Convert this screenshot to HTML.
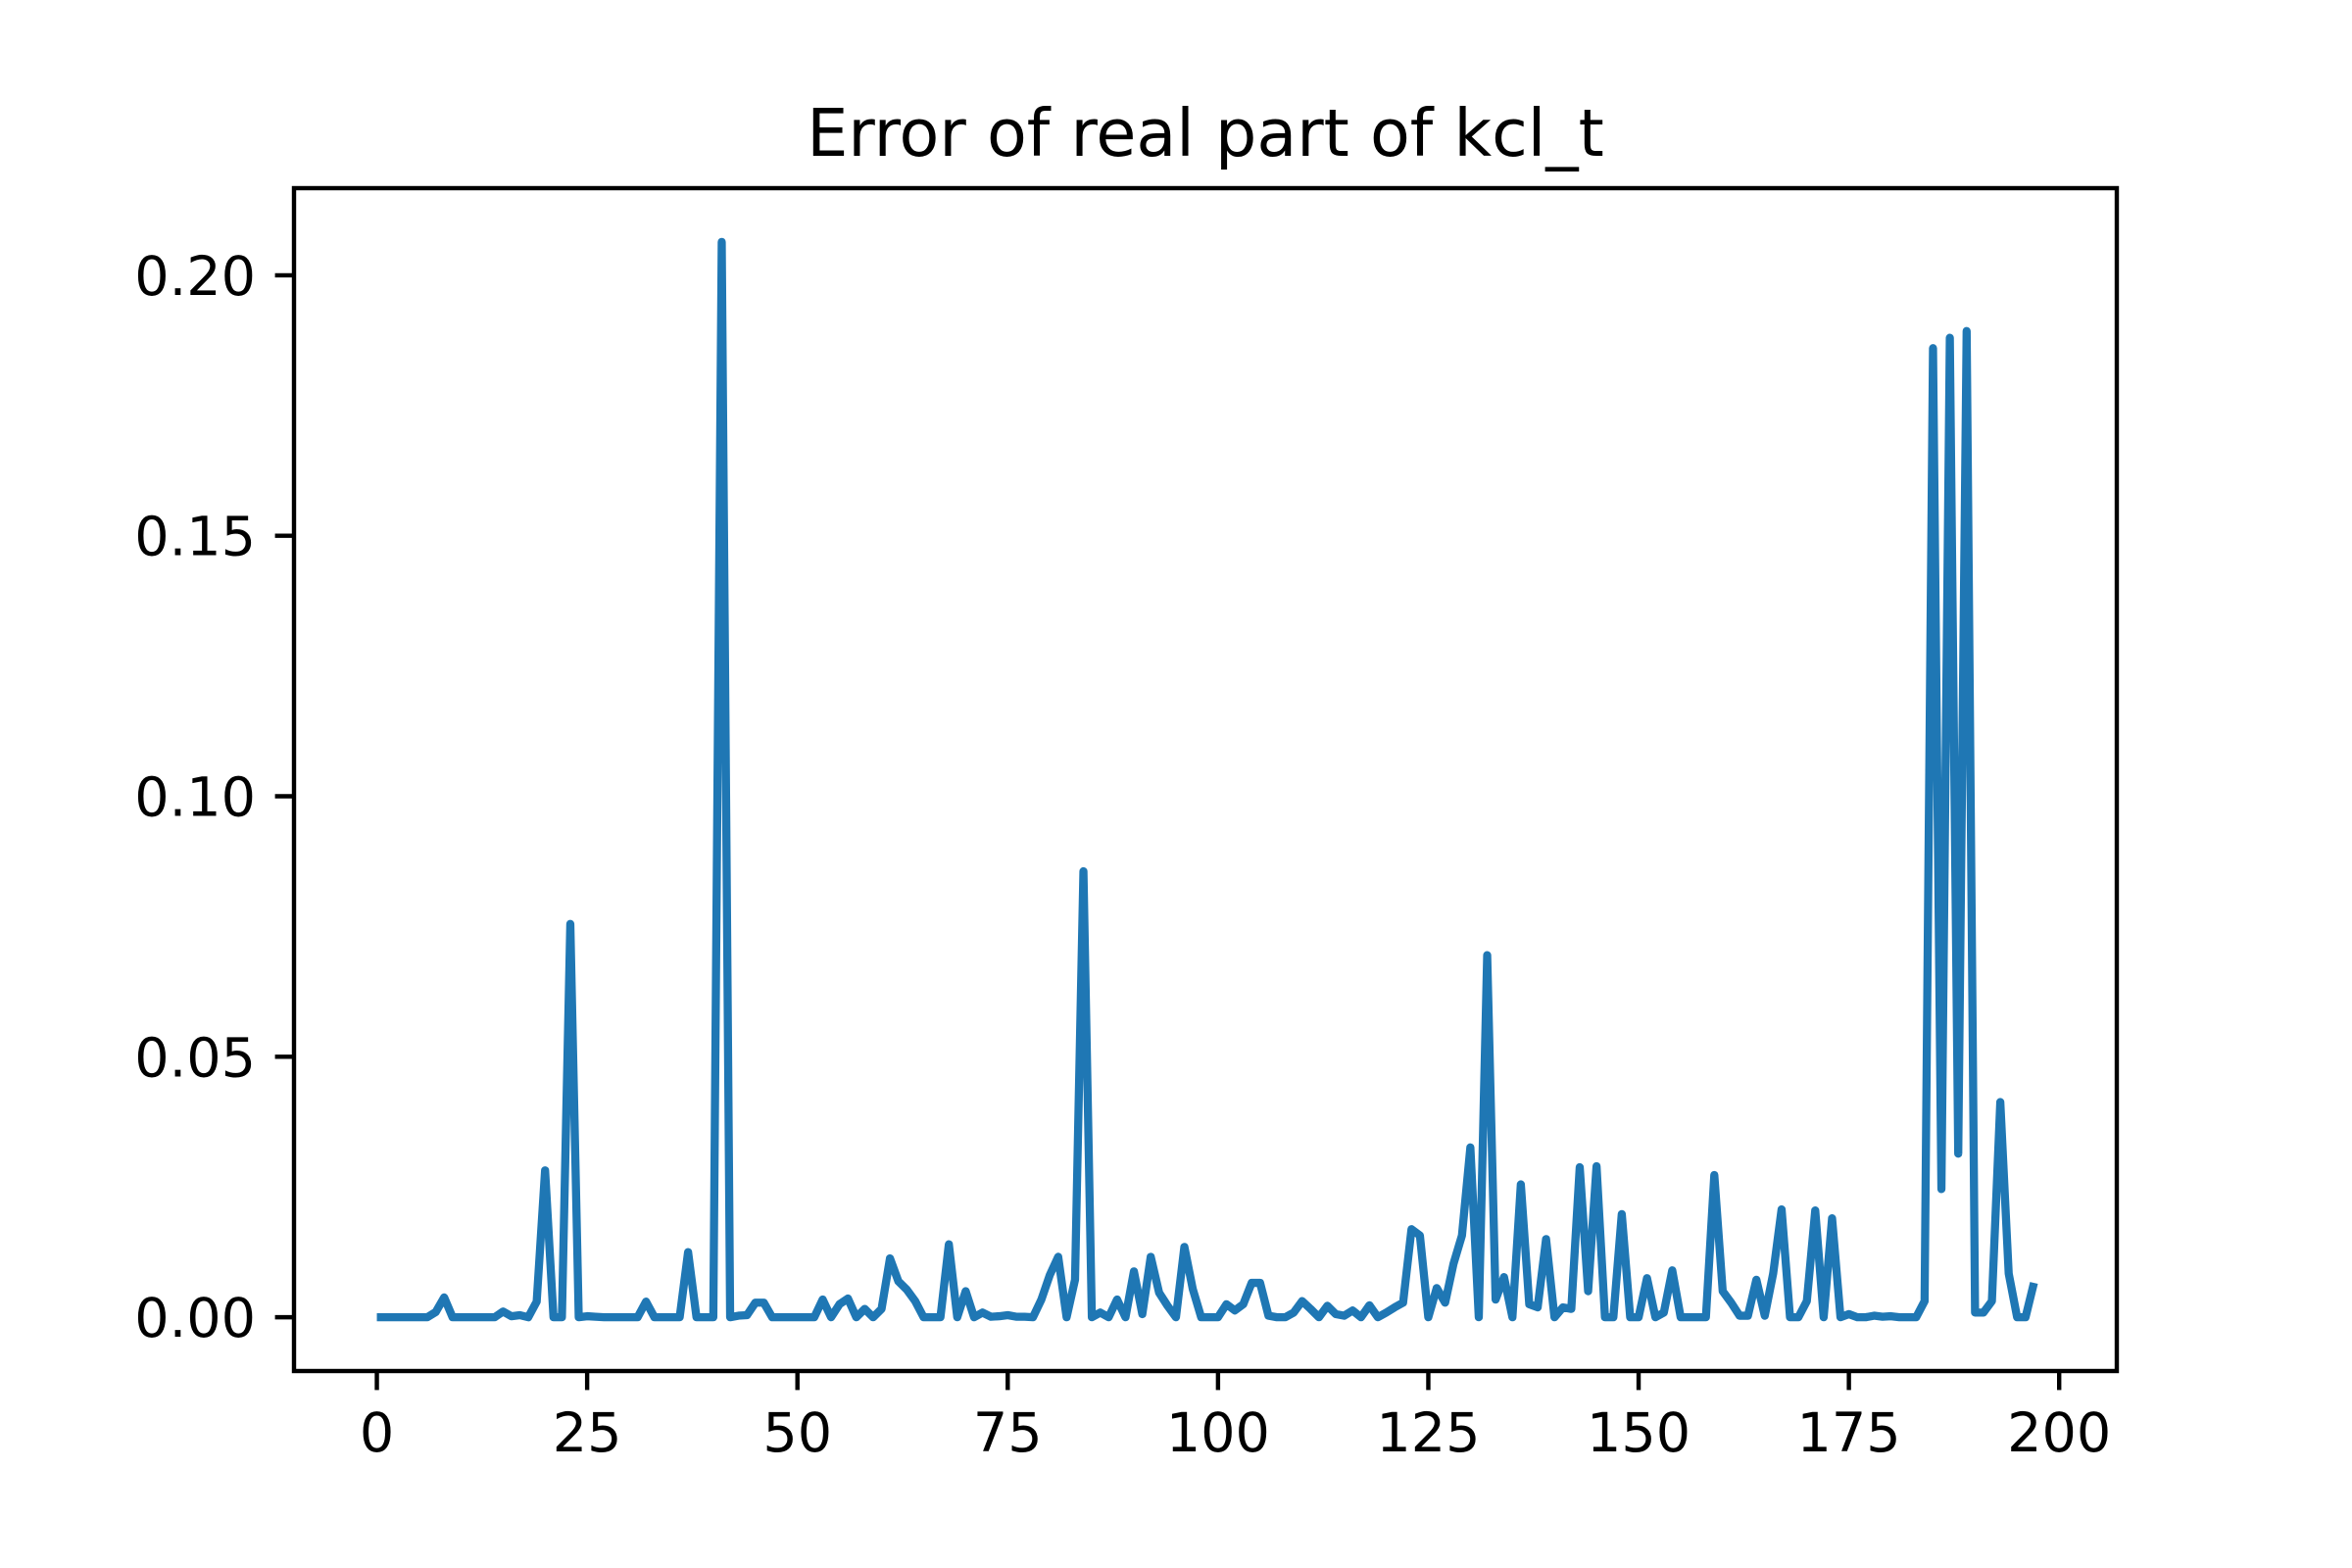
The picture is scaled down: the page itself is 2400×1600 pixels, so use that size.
<!DOCTYPE html>
<html>
<head>
<meta charset="utf-8">
<style>
  html, body { margin: 0; padding: 0; background: #ffffff; }
  svg { display: block; }
  text { font-family: "DejaVu Sans", "Liberation Sans", sans-serif; fill: #000; }
</style>
</head>
<body>
<svg id="chart" width="2400" height="1600" viewBox="0 0 2400 1600" xmlns="http://www.w3.org/2000/svg">
  <rect x="0" y="0" width="2400" height="1600" fill="#ffffff"/>
  <text x="1230" y="159" font-size="66.7" text-anchor="middle">Error of real part of kcl_t</text>
  <g id="ticks"></g>
  <g id="plot"></g>
  <rect x="300" y="192" width="1860" height="1207" fill="none" stroke="#000" stroke-width="4.4"/>
</svg>
<script>
const values = [
  0, 0, 0, 0, 0, 0, 0, 0.001, 0.0038, 0,
  0, 0, 0, 0, 0, 0.0011, 0.0002, 0.0004, 0, 0.003,
  0.0282, 0, 0, 0.0755, 0, 0.0002, 0.0001, 0, 0, 0,
  0, 0, 0.003, 0, 0, 0, 0, 0.0125, 0, 0,
  0, 0.2064, 0, 0.0003, 0.0004, 0.0028, 0.0028, 0, 0, 0,
  0, 0, 0, 0.0034, 0, 0.0025, 0.0036, 0, 0.0016, 0,
  0.0016, 0.0113, 0.0069, 0.0053, 0.0031, 0, 0, 0, 0.014, 0,
  0.005, 0, 0.0009, 0.0001, 0.0002, 0.0004, 0.0001, 0.0001, 0, 0.0034,
  0.0081, 0.0116, 0, 0.0072, 0.0856, 0, 0.0009, 0, 0.0034, 0,
  0.0088, 0.0006, 0.0116, 0.0047, 0.0022, 0, 0.0135, 0.0054, 0, 0,
  0, 0.0025, 0.0013, 0.0025, 0.0066, 0.0066, 0.0003, 0, 0, 0.0009,
  0.0031, 0.0016, 0, 0.0022, 0.0006, 0.0003, 0.0013, 0, 0.0023, 0,
  0.0009, 0.0019, 0.0028, 0.0169, 0.0157, 0, 0.0056, 0.0028, 0.0103, 0.0157,
  0.0326, 0, 0.0695, 0.0034, 0.0077, 0, 0.0255, 0.0025, 0.0019, 0.015,
  0, 0.0019, 0.0016, 0.0288, 0.005, 0.029, 0, 0, 0.0198, 0,
  0, 0.0075, 0, 0.0009, 0.009, 0, 0, 0, 0, 0.0273,
  0.005, 0.0028, 0.0003, 0.0003, 0.0072, 0.0003, 0.0084, 0.0207, 0, 0,
  0.0031, 0.0205, 0, 0.019, 0, 0.0006, 0, 0, 0.0003, 0.0001,
  0.0002, 0, 0, 0, 0.0031, 0.186, 0.0246, 0.188, 0.0314, 0.1893,
  0.0009, 0.0009, 0.0031, 0.0413, 0.0084, 0, 0, 0.0066
];
const xTicks = [0, 25, 50, 75, 100, 125, 150, 175, 200];
const yTicks = [0, 0.05, 0.10, 0.15, 0.20];
const yTickLabels = ["0.00", "0.05", "0.10", "0.15", "0.20"];

const NS = "http://www.w3.org/2000/svg";
const L = 300, R = 2160, T = 192, B = 1399;
const n = values.length;
const xMin = -0.05 * (n - 1), xMax = (n - 1) * 1.05;
const vMax = Math.max(...values), vMin = Math.min(...values);
const pad = (vMax - vMin) * 0.05;
const yMin = vMin - pad, yMax = vMax + pad;
function xs(v) { return L + (v - xMin) / (xMax - xMin) * (R - L); }
function ys(v) { return B - (v - yMin) / (yMax - yMin) * (B - T); }

const ticks = document.getElementById('ticks');
xTicks.forEach(function (t) {
  const x = xs(t);
  const ln = document.createElementNS(NS, 'line');
  ln.setAttribute('x1', x); ln.setAttribute('x2', x);
  ln.setAttribute('y1', B); ln.setAttribute('y2', B + 19.4);
  ln.setAttribute('stroke', '#000'); ln.setAttribute('stroke-width', '4.4');
  
  
  ticks.appendChild(ln);
  const tx = document.createElementNS(NS, 'text');
  tx.setAttribute('x', x); tx.setAttribute('y', 1481);
  tx.setAttribute('font-size', '55.6'); tx.setAttribute('text-anchor', 'middle');
  tx.textContent = String(t);
  
  
  ticks.appendChild(tx);
});
yTicks.forEach(function (t, i) {
  const y = ys(t);
  const ln = document.createElementNS(NS, 'line');
  ln.setAttribute('x1', L - 19.4); ln.setAttribute('x2', L);
  ln.setAttribute('y1', y); ln.setAttribute('y2', y);
  ln.setAttribute('stroke', '#000'); ln.setAttribute('stroke-width', '4.4');
  
  
  ticks.appendChild(ln);
  const tx = document.createElementNS(NS, 'text');
  tx.setAttribute('x', 261); tx.setAttribute('y', y + 20);
  tx.setAttribute('font-size', '55.6'); tx.setAttribute('text-anchor', 'end');
  tx.textContent = yTickLabels[i];
  
  
  ticks.appendChild(tx);
});

const plot = document.getElementById('plot');
const pts = values.map(function (v, i) { return xs(i).toFixed(2) + ',' + ys(v).toFixed(2); }).join(' ');
const line = document.createElementNS(NS, 'polyline');
line.setAttribute('points', pts);
line.setAttribute('fill', 'none');
line.setAttribute('stroke', '#1f77b4');
line.setAttribute('stroke-width', '8.3');
line.setAttribute('stroke-linejoin', 'round');
line.setAttribute('stroke-linecap', 'butt');


plot.appendChild(line);
</script>
</body>
</html>
